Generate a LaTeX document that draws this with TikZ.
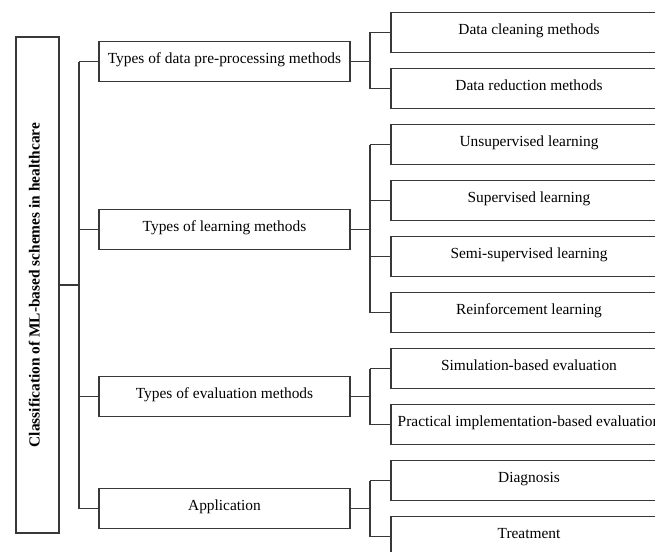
\documentclass[tikz,border=0pt]{standalone}
\usepackage{fontspec}
\setmainfont{Liberation Serif}
\begin{document}
\begin{tikzpicture}[x=1pt,y=-1pt,
  line width=1.1pt,
  conn/.style={draw=black!78, line width=1.1pt},
  box/.style={draw=black!78, line width=1.1pt, inner sep=0pt, align=center,
    text height=10.5pt, text depth=6.5pt,
    font=\fontsize{15.4}{18}\selectfont},
  rootbox/.style={box, rotate=90, minimum width=496pt, minimum height=43pt,
    font=\fontsize{15.4}{18}\selectfont\bfseries},
  midbox/.style={box, minimum width=251pt, minimum height=40pt},
  leafbox/.style={box, minimum width=276pt, minimum height=40pt}]
\useasboundingbox (0,0) rectangle (655,551);
\clip (0,0) rectangle (655,551);
\fill[white] (0,0) rectangle (655,551);

\node[rootbox] (root) at (37.5,285) {Classification of ML-based schemes in healthcare};

\node[midbox] (m1) at (224.5,61.7) {Types of data pre-processing methods};
\node[midbox] (m2) at (224.5,229.7) {Types of learning methods};
\node[midbox] (m3) at (224.5,396.5) {Types of evaluation methods};
\node[midbox] (m4) at (224.5,508.5) {Application};

\node[leafbox] (c0) at (529,32.5) {Data cleaning methods};
\node[leafbox] (c1) at (529,88.5) {Data reduction methods};
\node[leafbox] (c2) at (529,144.5) {Unsupervised learning};
\node[leafbox] (c3) at (529,200.5) {Supervised learning};
\node[leafbox] (c4) at (529,256.5) {Semi-supervised learning};
\node[leafbox] (c5) at (529,312.5) {Reinforcement learning};
\node[leafbox] (c6) at (529,368.5) {Simulation-based evaluation};
\node[leafbox] (c7) at (529,424.5) {Practical implementation-based evaluation};
\node[leafbox] (c8) at (529,480.5) {Diagnosis};
\node[leafbox] (c9) at (529,536.5) {Treatment};

\coordinate (tx) at (79,0);
\coordinate (jx) at (370,0);

% trunk
\draw[conn] (root.south) -- (root.south -| tx);
\draw[conn] (m1.west -| tx) -- (m4.west -| tx);
\foreach \m in {m1,m2,m3,m4} \draw[conn] (\m.west -| tx) -- (\m.west);

% groups
\draw[conn] (m1.east) -- (m1.east -| jx);
\draw[conn] (c0.west -| jx) -- (c1.west -| jx);
\draw[conn] (m2.east) -- (m2.east -| jx);
\draw[conn] (c2.west -| jx) -- (c5.west -| jx);
\draw[conn] (m3.east) -- (m3.east -| jx);
\draw[conn] (c6.west -| jx) -- (c7.west -| jx);
\draw[conn] (m4.east) -- (m4.east -| jx);
\draw[conn] (c8.west -| jx) -- (c9.west -| jx);
\foreach \c in {c0,c1,c2,c3,c4,c5,c6,c7,c8,c9} \draw[conn] (\c.west -| jx) -- (\c.west);
\end{tikzpicture}
\end{document}
